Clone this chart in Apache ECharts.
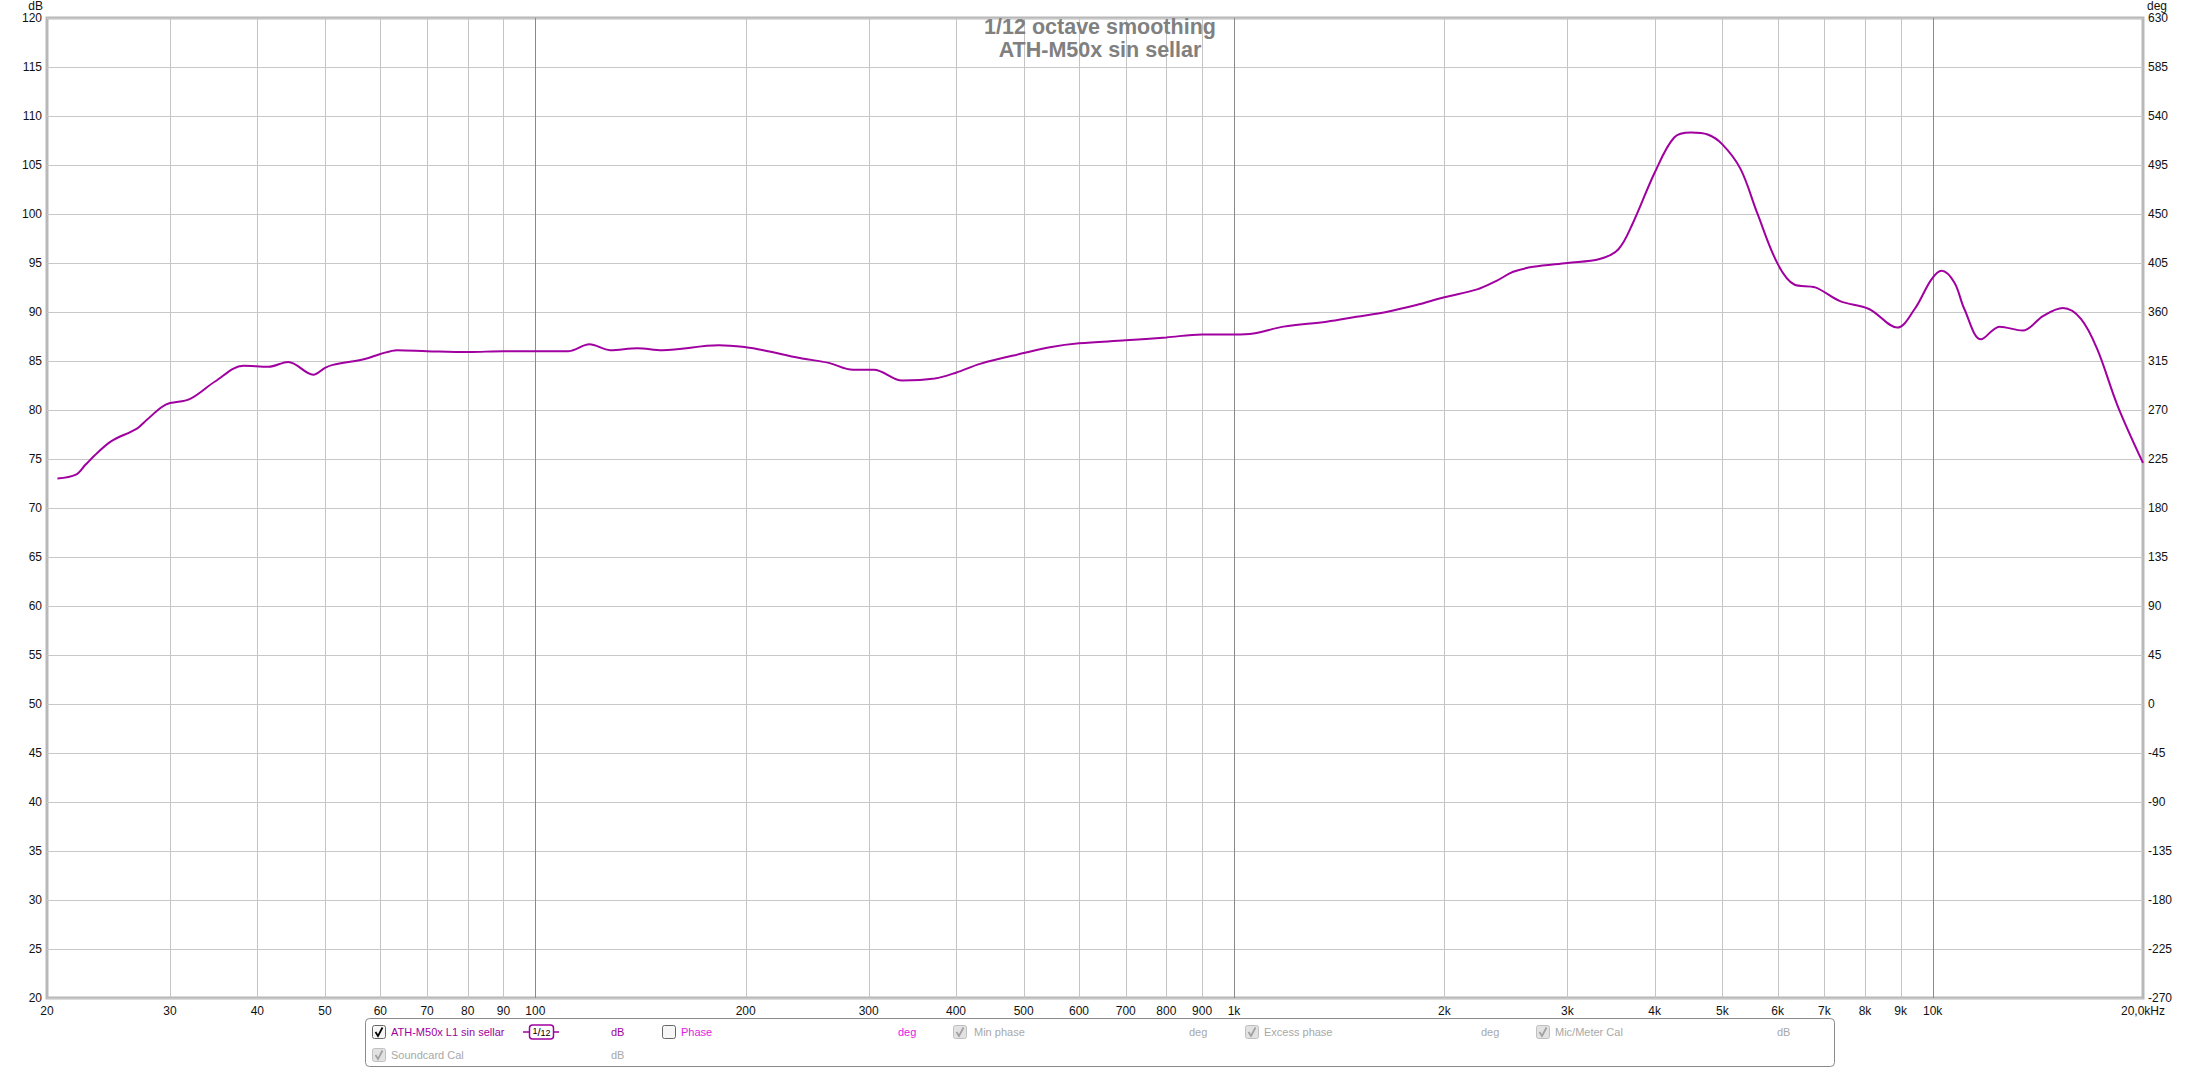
<!DOCTYPE html>
<html><head><meta charset="utf-8">
<script src="https://cdn.jsdelivr.net/npm/echarts@6/dist/echarts.min.js"></script>
<style>html,body{margin:0;padding:0;background:#fff}#c{width:2200px;height:1069px}</style>
</head><body><div id="c"></div>
<script>
// ---- data ----
const freqs = [20.7, 22, 22.7, 23.6, 24.7, 26.9, 27.8, 29.2, 30, 32, 34.8, 38.2, 41.5, 44.3, 48.1, 50, 51.3, 57, 60, 63.4, 70, 80.2, 90, 100, 111.6, 119.5, 128, 140, 152, 183, 200, 212, 239, 263, 285, 305, 335, 373, 400, 433, 500, 545, 600, 700, 800, 900, 1000, 1066, 1177, 1357, 1497, 1652, 1824, 2000, 2228, 2379, 2510, 2681, 3000, 3337, 3550, 3725, 4000, 4266, 4508, 4764, 5000, 5308, 5608, 6000, 6337, 6790, 7370, 8107, 8899, 9424, 9955, 10300, 10740, 11100, 11730, 12470, 13450, 14400, 15360, 16300, 17200, 18400, 20000];
const spl = [73.0, 73.4, 74.4, 75.6, 76.8, 78.1, 79.0, 80.3, 80.7, 81.1, 82.9, 84.5, 84.4, 84.9, 83.6, 84.3, 84.6, 85.2, 85.7, 86.1, 86.0, 85.9, 86.0, 86.0, 86.0, 86.7, 86.1, 86.3, 86.1, 86.6, 86.4, 86.1, 85.3, 84.8, 84.1, 84.1, 83.0, 83.2, 83.8, 84.7, 85.8, 86.4, 86.8, 87.1, 87.4, 87.7, 87.7, 87.8, 88.5, 89.0, 89.5, 90.0, 90.7, 91.5, 92.3, 93.2, 94.1, 94.6, 95.0, 95.4, 96.4, 99.1, 104.2, 107.8, 108.3, 108.1, 107.1, 104.6, 100.1, 94.9, 92.8, 92.5, 91.1, 90.3, 88.4, 90.3, 93.3, 94.2, 93.0, 90.3, 87.2, 88.5, 88.1, 89.6, 90.4, 89.3, 86.2, 80.4, 74.6];
const xTickValues = [20, 30, 40, 50, 60, 70, 80, 90, 100, 200, 300, 400, 500, 600, 700, 800, 900, 1000, 2000, 3000, 4000, 5000, 6000, 7000, 8000, 9000, 10000, 20000];
const xTickLabels = ['20', '30', '40', '50', '60', '70', '80', '90', '100', '200', '300', '400', '500', '600', '700', '800', '900', '1k', '2k', '3k', '4k', '5k', '6k', '7k', '8k', '9k', '10k', '20,0kHz'];
const minorGridFreqs = [30, 40, 50, 60, 70, 80, 90, 200, 300, 400, 500, 600, 700, 800, 900, 2000, 3000, 4000, 5000, 6000, 7000, 8000, 9000];
const decadeGridFreqs = [100, 1000, 10000];
const titleLines = ['1/12 octave smoothing', 'ATH-M50x sin sellar'];

const chart = echarts.init(document.getElementById('c'), null, {renderer: 'svg'});
const axisFont = {fontFamily: '"Liberation Sans", Arial, sans-serif', fontSize: 12, color: '#111'};
const legFont = '11px "Liberation Sans", Arial, sans-serif';
const PURPLE = '#a000a0', MAGENTA = '#e020e0', GREY = '#a8a8a8';

function gridSeries(values, color) {
  return {
    type: 'custom', silent: true, z: 1, clip: false,
    xAxisIndex: 0, yAxisIndex: 0,
    data: values.map(v => [v, 20]),
    encode: {x: 0, y: 1},
    renderItem: (params, api) => {
      const t = api.coord([api.value(0), 120]);
      const b = api.coord([api.value(0), 20]);
      const x = Math.round(t[0]) + 0.5;
      return {type: 'line', shape: {x1: x, y1: t[1], x2: x, y2: b[1]}, style: {stroke: color, lineWidth: 1}};
    }
  };
}

function checkbox(x, y, checked, enabled) {
  const els = [{type: 'rect', z: 10, shape: {x: x + 0.5, y: y + 0.5, width: 13, height: 13, r: 2},
    style: {fill: enabled ? '#f6f6f6' : '#e2e2e2', stroke: enabled ? '#666' : '#c0c0c0', lineWidth: 1}}];
  if (checked) els.push({type: 'polyline', z: 11, shape: {points: [[x + 3.5, y + 7], [x + 6, y + 11], [x + 10.5, y + 2.5]]},
    style: {stroke: enabled ? '#000' : '#a0a0a0', lineWidth: 1.7, fill: null}});
  return els;
}
function txt(x, y, s, color) {
  return {type: 'text', z: 11, x: x, y: y, style: {text: s, fill: color, font: legFont, verticalAlign: 'middle', align: 'left'}};
}

const r1 = 1032, r2 = 1055;
const legendEls = [
  {type: 'rect', z: 9, shape: {x: 365.5, y: 1018.5, width: 1469, height: 48, r: 4}, style: {fill: '#fff', stroke: '#8a8a8a', lineWidth: 1}},
  ...checkbox(372, r1 - 7, true, true), txt(391, r1, 'ATH-M50x L1 sin sellar', PURPLE),
  {type: 'line', z: 10, shape: {x1: 523, y1: r1, x2: 559, y2: r1}, style: {stroke: PURPLE, lineWidth: 1.5}},
  {type: 'rect', z: 11, shape: {x: 529.5, y: r1 - 7, width: 24, height: 14, r: 3}, style: {fill: '#fff', stroke: PURPLE, lineWidth: 1.5}},
  {type: 'text', z: 12, x: 541.5, y: r1, style: {text: '{a|1}/{b|12}', align: 'center', verticalAlign: 'middle', fill: '#000',
    rich: {a: {fontSize: 9, verticalAlign: 'top', fill: '#000', fontFamily: 'Liberation Sans'}, b: {fontSize: 9, verticalAlign: 'bottom', fill: '#000', fontFamily: 'Liberation Sans'}},
    font: '11px "Liberation Sans", sans-serif'}},
  txt(611, r1, 'dB', PURPLE),
  ...checkbox(662, r1 - 7, false, true), txt(681, r1, 'Phase', MAGENTA),
  txt(898, r1, 'deg', MAGENTA),
  ...checkbox(953, r1 - 7, true, false), txt(974, r1, 'Min phase', GREY),
  txt(1189, r1, 'deg', GREY),
  ...checkbox(1245, r1 - 7, true, false), txt(1264, r1, 'Excess phase', GREY),
  txt(1481, r1, 'deg', GREY),
  ...checkbox(1536, r1 - 7, true, false), txt(1555, r1, 'Mic/Meter Cal', GREY),
  txt(1777, r1, 'dB', GREY),
  ...checkbox(372, r2 - 7, true, false), txt(391, r2, 'Soundcard Cal', GREY),
  txt(611, r2, 'dB', GREY)
];

const option = {
  backgroundColor: '#fff',
  animation: false,
  title: {
    text: titleLines.join('\n'), left: 'center', top: 10,
    textStyle: {fontFamily: '"Liberation Sans", Arial, sans-serif', fontSize: 21.5, fontWeight: 'bold', color: '#808080', lineHeight: 23.5}
  },
  grid: {left: 47, right: 57, top: 15, bottom: 71, show: true, borderColor: '#b8b8b8', borderWidth: 3, backgroundColor: 'transparent', containLabel: false},
  xAxis: {
    type: 'log', logBase: 10, min: 20, max: 20000,
    axisLine: {show: false}, axisTick: {show: false}, splitLine: {show: false}, minorSplitLine: {show: false},
    axisLabel: {
      ...axisFont, margin: 7, showMinLabel: true, showMaxLabel: true,
      customValues: xTickValues,
      formatter: v => { const i = xTickValues.findIndex(t => Math.abs(t - v) / t < 1e-6); return i >= 0 ? xTickLabels[i] : ''; }
    }
  },
  yAxis: [
    {
      type: 'value', min: 20, max: 120, interval: 5, position: 'left',
      name: 'dB', nameLocation: 'end', nameGap: 1,
      nameTextStyle: {...axisFont, align: 'right', verticalAlign: 'bottom', padding: [0, 4, 0, 0]},
      axisLine: {show: false}, axisTick: {show: false},
      splitLine: {show: true, lineStyle: {color: '#c8c8c8', width: 1}},
      axisLabel: {...axisFont, margin: 5, showMinLabel: true, showMaxLabel: true}
    },
    {
      type: 'value', min: -270, max: 630, interval: 45, position: 'right',
      name: 'deg', nameLocation: 'end', nameGap: 1,
      nameTextStyle: {...axisFont, align: 'left', verticalAlign: 'bottom', padding: [0, 0, 0, 4]},
      axisLine: {show: false}, axisTick: {show: false}, splitLine: {show: false},
      axisLabel: {...axisFont, margin: 5, showMinLabel: true, showMaxLabel: true}
    }
  ],
  graphic: legendEls,
  series: [
    gridSeries(minorGridFreqs, '#c4c4c4'),
    gridSeries(decadeGridFreqs, '#8a8a8a'),
    {
      type: 'line', name: 'ATH-M50x L1 sin sellar', z: 5,
      data: freqs.map((f, i) => [f, spl[i]]),
      smooth: 0.35, showSymbol: false, symbol: 'none',
      lineStyle: {color: PURPLE, width: 2}, silent: true
    }
  ]
};
chart.setOption(option);
</script>
</body></html>
